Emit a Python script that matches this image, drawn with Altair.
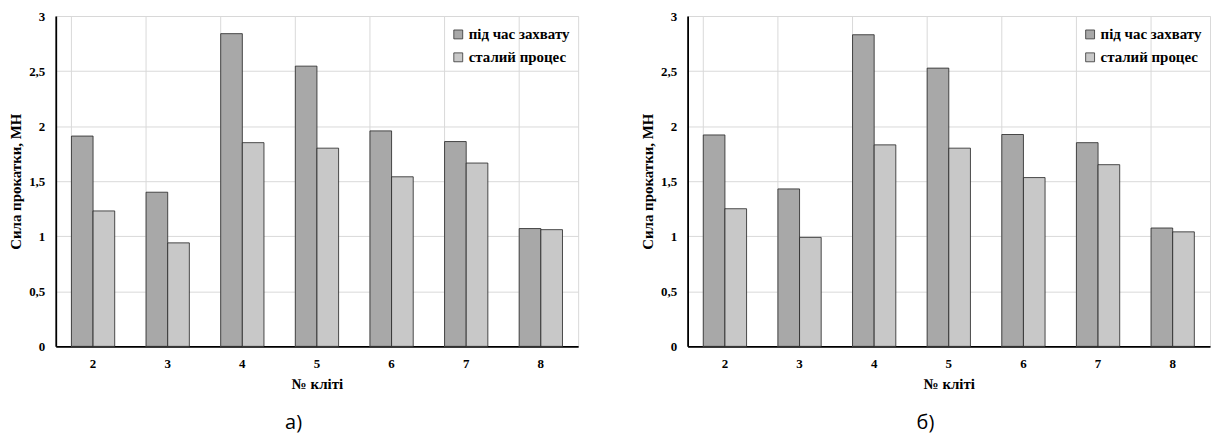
import altair as alt
import pandas as pd

stands = ["2", "3", "4", "5", "6", "7", "8"]
series = ["під час захвату", "сталий процес"]
a_capture = [1.91, 1.40, 2.84, 2.545, 1.957, 1.86, 1.07]
a_steady = [1.23, 0.94, 1.85, 1.80, 1.54, 1.665, 1.06]
b_capture = [1.92, 1.43, 2.83, 2.527, 1.924, 1.85, 1.075]
b_steady = [1.25, 0.99, 1.83, 1.80, 1.533, 1.65, 1.04]
panel_labels = ["а)", "б)"]
y_title = "Сила прокатки, МН"
x_title = "№ кліті"
y_ticks = [0, 0.5, 1, 1.5, 2, 2.5, 3]
fills = ["#a8a8a8", "#c8c8c8"]

FONT = "Liberation Serif"
W, H = 525, 332


def panel(capture, steady, label, lx):
    rows = []
    for s, c, st in zip(stands, capture, steady):
        rows.append({"stand": s, "series": series[0], "value": c})
        rows.append({"stand": s, "series": series[1], "value": st})
    df = pd.DataFrame(rows)
    grid_df = pd.DataFrame({"stand": stands})

    xscale = alt.Scale(domain=stands, paddingInner=0.42, paddingOuter=0.21)
    xaxis = alt.Axis(
        title=x_title, labelAngle=0, grid=False, ticks=False,
        domainColor="black", domainWidth=1.8,
        labelPadding=11, titlePadding=6,
    )

    rules = alt.Chart(grid_df).mark_rule(color="#d9d9d9", strokeWidth=1).encode(
        x=alt.X("stand:N", bandPosition=0, scale=xscale, sort=stands, axis=xaxis,
                title=x_title)
    )

    bars = alt.Chart(df).mark_bar(stroke="#222222", strokeWidth=0.8).encode(
        x=alt.X("stand:N", scale=xscale, sort=stands, axis=xaxis, title=x_title),
        xOffset=alt.XOffset("series:N", sort=series,
                            scale=alt.Scale(paddingInner=0, paddingOuter=0)),
        y=alt.Y(
            "value:Q",
            scale=alt.Scale(domain=[0, 3]),
            axis=alt.Axis(
                title=y_title, values=y_ticks, ticks=False, grid=True,
                gridColor="#d9d9d9", gridWidth=1,
                domainColor="black", domainWidth=1.8,
                labelExpr="replace(format(datum.value, '~g'), '.', ',')",
                labelPadding=11, minExtent=28, maxExtent=28, titlePadding=4,
            ),
        ),
        color=alt.Color(
            "series:N",
            sort=series,
            scale=alt.Scale(domain=series, range=fills),
            legend=alt.Legend(
                title=None, orient="none", legendX=lx, legendY=11,
                symbolType="square", symbolSize=80,
                symbolStrokeColor="#333333", symbolStrokeWidth=0.8,
                labelFont=FONT, labelFontSize=15, labelFontWeight="bold",
                labelColor="black", rowPadding=7, labelOffset=3,
            ),
        ),
    )

    return alt.layer(rules, bars).properties(
        width=W, height=H,
        title=alt.TitleParams(
            text=label, orient="bottom", frame="bounds", anchor="middle",
            font="Open Sans", fontSize=20, fontWeight="normal",
            color="black", offset=22,
        ),
    )


left = panel(a_capture, a_steady, panel_labels[0], 397)
right = panel(b_capture, b_steady, panel_labels[1], 397)

chart = (
    alt.hconcat(left, right, spacing=61)
    .resolve_scale(color="independent")
    .resolve_legend(color="independent")
    .properties(padding=0)
    .configure_view(stroke="#d9d9d9", strokeWidth=1)
    .configure_axis(
        labelFont=FONT, labelFontSize=13, labelFontWeight="bold", labelColor="black",
        titleFont=FONT, titleFontSize=15, titleFontWeight="bold", titleColor="black",
    )
)

chart.save("out.html", embed_options={"renderer": "svg", "actions": False})
